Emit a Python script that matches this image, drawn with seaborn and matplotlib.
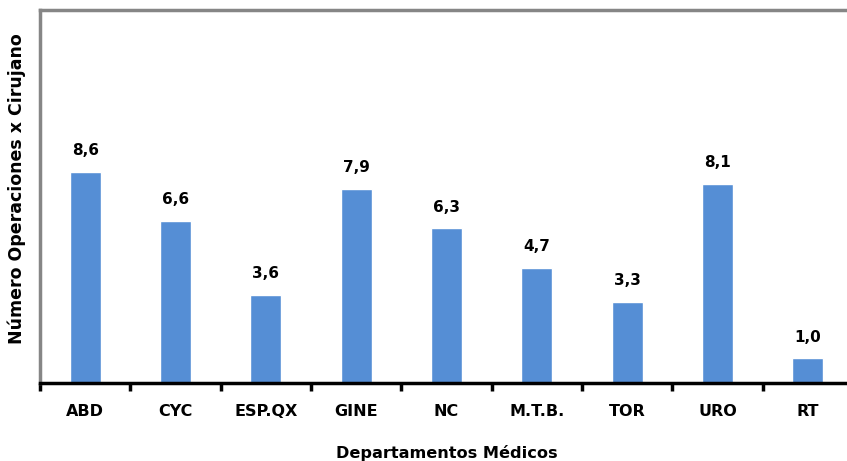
import matplotlib
matplotlib.use("Agg")
import matplotlib.pyplot as plt
import seaborn as sns
import pandas as pd
import numpy as np

categories = ["ABD", "CYC", "ESP.QX", "GINE", "NC", "M.T.B.", "TOR", "URO", "RT"]
values = [8.6, 6.6, 3.6, 7.9, 6.3, 4.7, 3.3, 8.1, 1.0]
value_labels = ["8,6", "6,6", "3,6", "7,9", "6,3", "4,7", "3,3", "8,1", "1,0"]

sns.set_theme(style="white")
plt.rcParams['font.family'] = ['DejaVu Sans']
plt.rcParams['text.color'] = 'black'
plt.rcParams['axes.labelcolor'] = 'black'
plt.rcParams['xtick.color'] = 'black'

df = pd.DataFrame({"dept": categories, "val": values})

fig = plt.figure(figsize=(8.47, 4.61), dpi=100)
W, H = 847, 461
ax = fig.add_axes([40 / W, (H - 383) / H, 813 / W, 373 / H])

sns.barplot(data=df, x="dept", y="val", color="#558ED5", width=0.34,
            saturation=1, ax=ax, order=categories)

ax.set_xlim(-0.5, 8.5)
ax.set_ylim(0, 15.2)
ax.set_yticks([])

for i, (v, lab) in enumerate(zip(values, value_labels)):
    ax.annotate(lab, (i, v), xytext=(0, 10), textcoords="offset points",
                ha="center", va="bottom", fontsize=11, fontweight="bold",
                color="black")

ax.set_xticks(range(len(categories)))
ax.set_xticklabels(categories, fontsize=11.5, fontweight="bold", color="black")
ax.tick_params(axis="x", which="major", length=0, pad=15)
ax.set_xticks(np.arange(-0.5, len(categories), 1.0), minor=True)
ax.tick_params(axis="x", which="minor", length=6, width=2.5, color="black",
               direction="out", bottom=True)

ax.set_xlabel("Departamentos Médicos", fontsize=11.6, fontweight="bold",
              labelpad=19, color="black")
ax.set_ylabel("Número Operaciones x Cirujano", fontsize=12.5,
              fontweight="bold", labelpad=10, color="black")
ax.yaxis.label.set_y(0.5 + 8 / 373)

for s in ["left", "top"]:
    ax.spines[s].set_color("#868686")
    ax.spines[s].set_linewidth(2.5)
ax.spines["right"].set_visible(False)
ax.spines["bottom"].set_color("black")
ax.spines["bottom"].set_linewidth(2.5)

fig.savefig("out.png", dpi=100)
